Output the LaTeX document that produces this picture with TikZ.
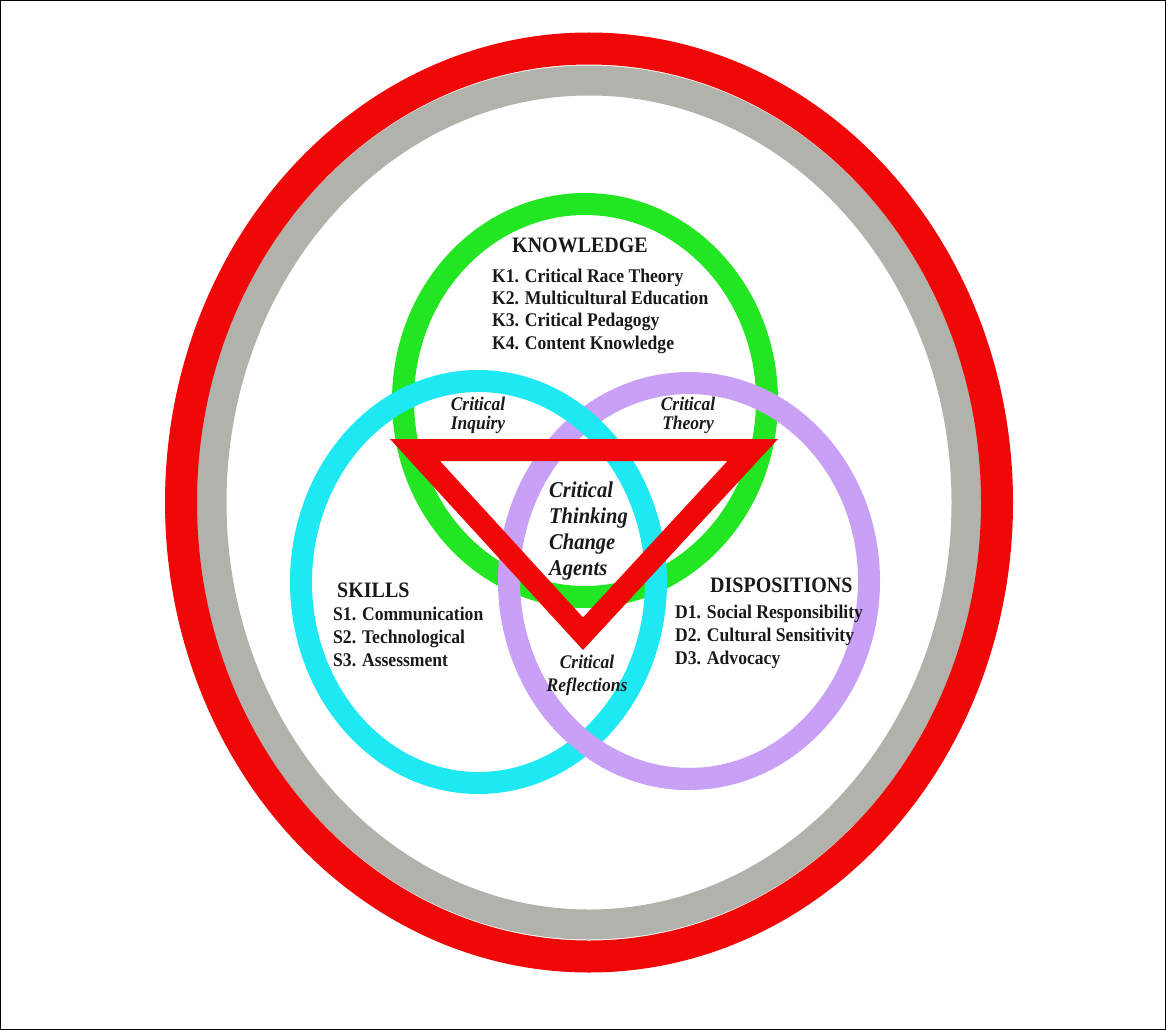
\documentclass[tikz,border=0pt]{standalone}
\usepackage{fontspec}
\setmainfont{Liberation Serif}
\usetikzlibrary{positioning}
\definecolor{ringred}{RGB}{240,8,8}
\definecolor{ringgray}{RGB}{178,178,172}
\definecolor{knowgreen}{RGB}{34,230,34}
\definecolor{skillcyan}{RGB}{30,232,242}
\definecolor{disppurple}{RGB}{200,160,245}
\newcommand{\tallt}[1]{\scalebox{1}[1.1]{#1}}

\begin{document}
\begin{tikzpicture}[x=1pt,y=-1pt,
  head/.style={inner sep=0pt, text=black!90, font=\fontsize{20}{24}\selectfont\bfseries},
  item/.style={inner sep=0pt, anchor=base west, text=black!90, font=\fontsize{17.6}{22}\selectfont\bfseries},
  link/.style={inner sep=0pt, anchor=base, text=black!90, font=\fontsize{17.5}{20}\selectfont\bfseries\itshape},
  core/.style={inner sep=0pt, anchor=base west, text=black!90, font=\fontsize{20.5}{26}\selectfont\bfseries\itshape}]
  \useasboundingbox (0,0) rectangle (1166,1030);
  \draw[line width=1.2pt] (0.6,0.6) rectangle (1165.4,1029.4);
  % outer rings
  \draw[ringgray, line width=30] (589,502.5) ellipse [x radius=377.5, y radius=422];
  \draw[ringred, line width=32] (589,502.5) ellipse [x radius=408, y radius=454];
  % three circles
  \draw[knowgreen, line width=22] (585,400.5) ellipse [x radius=182, y radius=196.5];
  \draw[disppurple, line width=22] (689,581) ellipse [x radius=180, y radius=198];
  \draw[skillcyan, line width=22] (478.5,582) ellipse [x radius=177.5, y radius=201];
  \begin{scope}
    \clip (500,690) rectangle (700,820);
    \draw[disppurple, line width=22] (689,581) ellipse [x radius=180, y radius=198];
  \end{scope}
  % triangle
  \coordinate (tl) at (390,439);
  \coordinate (tr) at (778,439);
  \coordinate (tb) at (583,650);
  \coordinate (il) at (440,461);
  \coordinate (ir) at (727.5,461);
  \coordinate (ib) at (583,617.5);
  \fill[ringred, even odd rule] (tl) -- (tr) -- (tb) -- cycle (il) -- (ir) -- (ib) -- cycle;
  % knowledge
  \node[head, anchor=base] (know) at (580,252) {\tallt{KNOWLEDGE}};
  \foreach \txt [count=\i] in {K1. Critical Race Theory, K2. Multicultural Education,
    K3. Critical Pedagogy, K4. Content Knowledge}
    \node[item] (k\i) at (492,259.6+22.4*\i) {\tallt{\txt}};
  % skills
  \node[head, anchor=base west] (skills) at (337,597) {\tallt{SKILLS}};
  \foreach \txt [count=\i] in {S1. Communication, S2. Technological, S3. Assessment}
    \node[item] (s\i) at (333,597+23*\i) {\tallt{\txt}};
  % dispositions
  \node[head, anchor=base west] (disp) at (710,592) {\tallt{DISPOSITIONS}};
  \foreach \txt [count=\i] in {D1. Social Responsibility, D2. Cultural Sensitivity, D3. Advocacy}
    \node[item] (d\i) at (675,595+23*\i) {\tallt{\txt}};
  % overlaps
  \node[link] (inq1) at (478,410) {\tallt{Critical}};
  \node[link] (inq2) at (478,429) {\tallt{Inquiry}};
  \node[link] (thy1) at (688,410) {\tallt{Critical}};
  \node[link] (thy2) at (688,429) {\tallt{Theory}};
  \node[link] (ref1) at (587,668) {\tallt{Critical}};
  \node[link] (ref2) at (587,691) {\tallt{Reflections}};
  % centre
  \foreach \txt [count=\i] in {Critical, Thinking, Change, Agents}
    \node[core] (c\i) at (549,471+26*\i) {\tallt{\txt}};
\end{tikzpicture}
\end{document}
